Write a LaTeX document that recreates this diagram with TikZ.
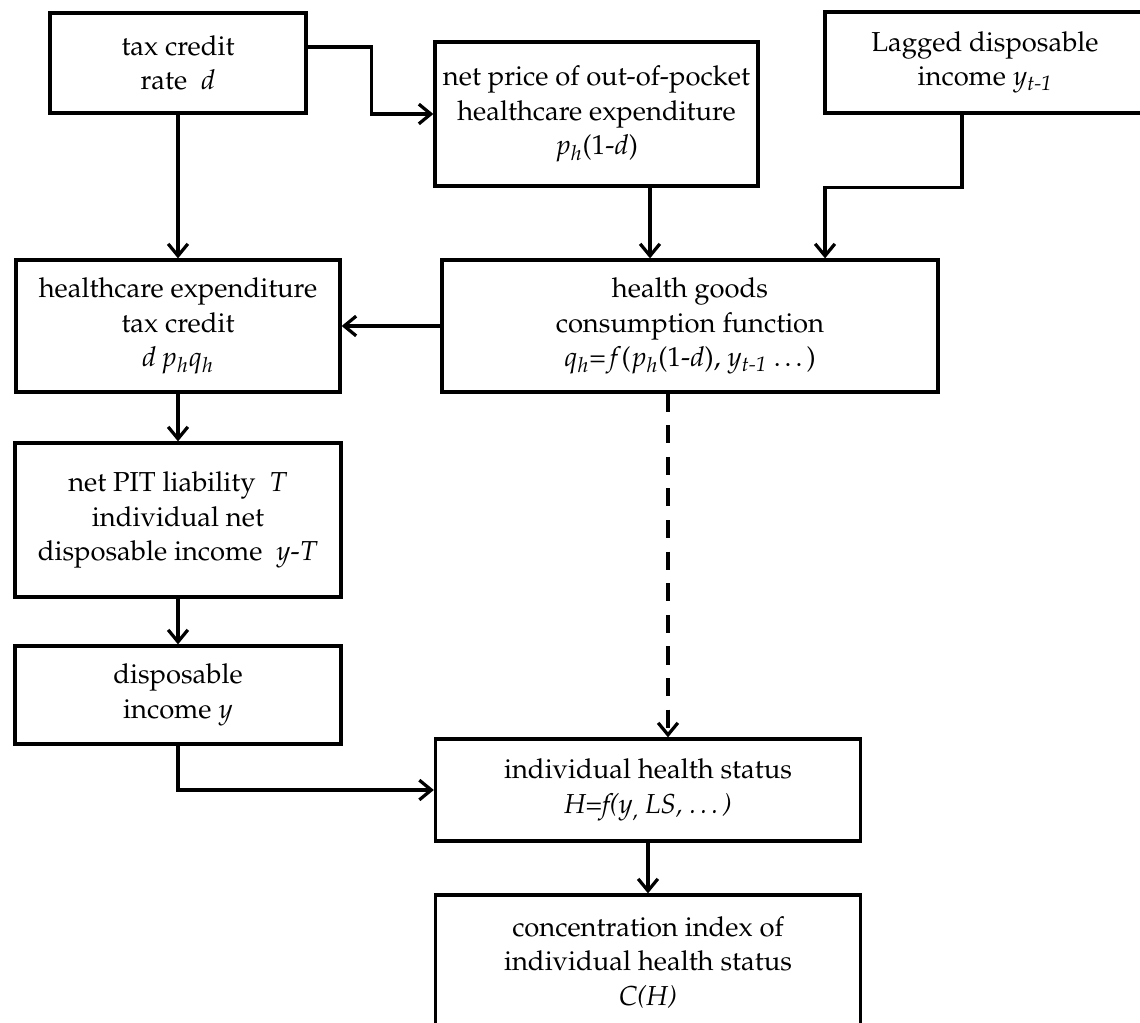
\documentclass[tikz,border=0pt]{standalone}
\usepackage[T1]{fontenc}
\usepackage{mathpazo}
\usepackage{amsmath}
\usetikzlibrary{arrows.meta}

\begin{document}
\begin{tikzpicture}[x=0.025cm, y=-0.025cm, every path/.style={line width=2.3pt}, >={Straight Barb[length=8.5pt, width=14pt]}, box/.style = {draw, rectangle, line width=2.3pt, align=center, font=\fontsize{19.5}{24.5}\selectfont}]
        \useasboundingbox (0,0) rectangle (1140,1023);
        \node[box, minimum width=6.4cm, minimum height=2.5cm] (1) at (178,63) {tax credit\\rate~ $d$};
        \node[box, minimum width=8.075cm, minimum height=3.6cm] (2) at (596.5,114) {net price of out-of-pocket\\healthcare expenditure\\$p_h$(1-$d$)};
        \node[box, minimum width=8cm, minimum height=2.525cm] (3) at (985,62.5) {Lagged disposable\\income $y_{\text{\itshape t-1}}$};
        \node[box, minimum width=8.1cm, minimum height=3.3cm] (4) at (178,326) {healthcare expenditure\\tax credit\\$d\,p_hq_h$};
        \node[box, minimum width=12.4cm, minimum height=3.3cm] (5) at (690,326) {health goods\\consumption function\\$q_h$=$f$($p_h$(1-$d$), $y_{\text{\itshape t-1}}$ \dots)};
        \node[box, minimum width=8.15cm, minimum height=3.85cm] (6) at (178,520) {net PIT liability~ $T$\\individual net\\disposable income~ $y$-$T$};
        \node[box, minimum width=8.15cm, minimum height=2.45cm] (7) at (178,695) {disposable\\income $y$};
        \node[box, minimum width=10.625cm, minimum height=2.55cm] (8) at (648,790) {individual health status\\\textit{H=f(y}$_{,}$ \textit{LS, \dots)}};
        \node[box, minimum width=10.625cm, minimum height=3.375cm] (9) at (648,962.5) {concentration index of\\individual health status\\\textit{C(H)}};
        \draw[->] ([yshift=0.4cm]1.east) -- ++(64,0) |- (2.west);
        \draw[->] (1) -- (4);
        \draw[->] ([xshift=1.3375cm]2.south) -- ([xshift=1.3375cm]2.south |- 5.north);
        \draw[->] ([xshift=-0.575cm]3.south) -- ++(0,73) -| ([xshift=3.375cm]5.north);
        \draw[->] (5) -- (4);
        \draw[->] (4) -- (6);
        \draw[->] (6) -- (7);
        \draw[->, dash pattern=on 0.45cm off 0.34cm] ([xshift=-0.55cm]5.south) -- ([xshift=-0.55cm]5.south |- 8.north);
        \draw[->] (7.south) |- (8.west);
        \draw[->] (8) -- (9);
    \end{tikzpicture}
\end{document}
